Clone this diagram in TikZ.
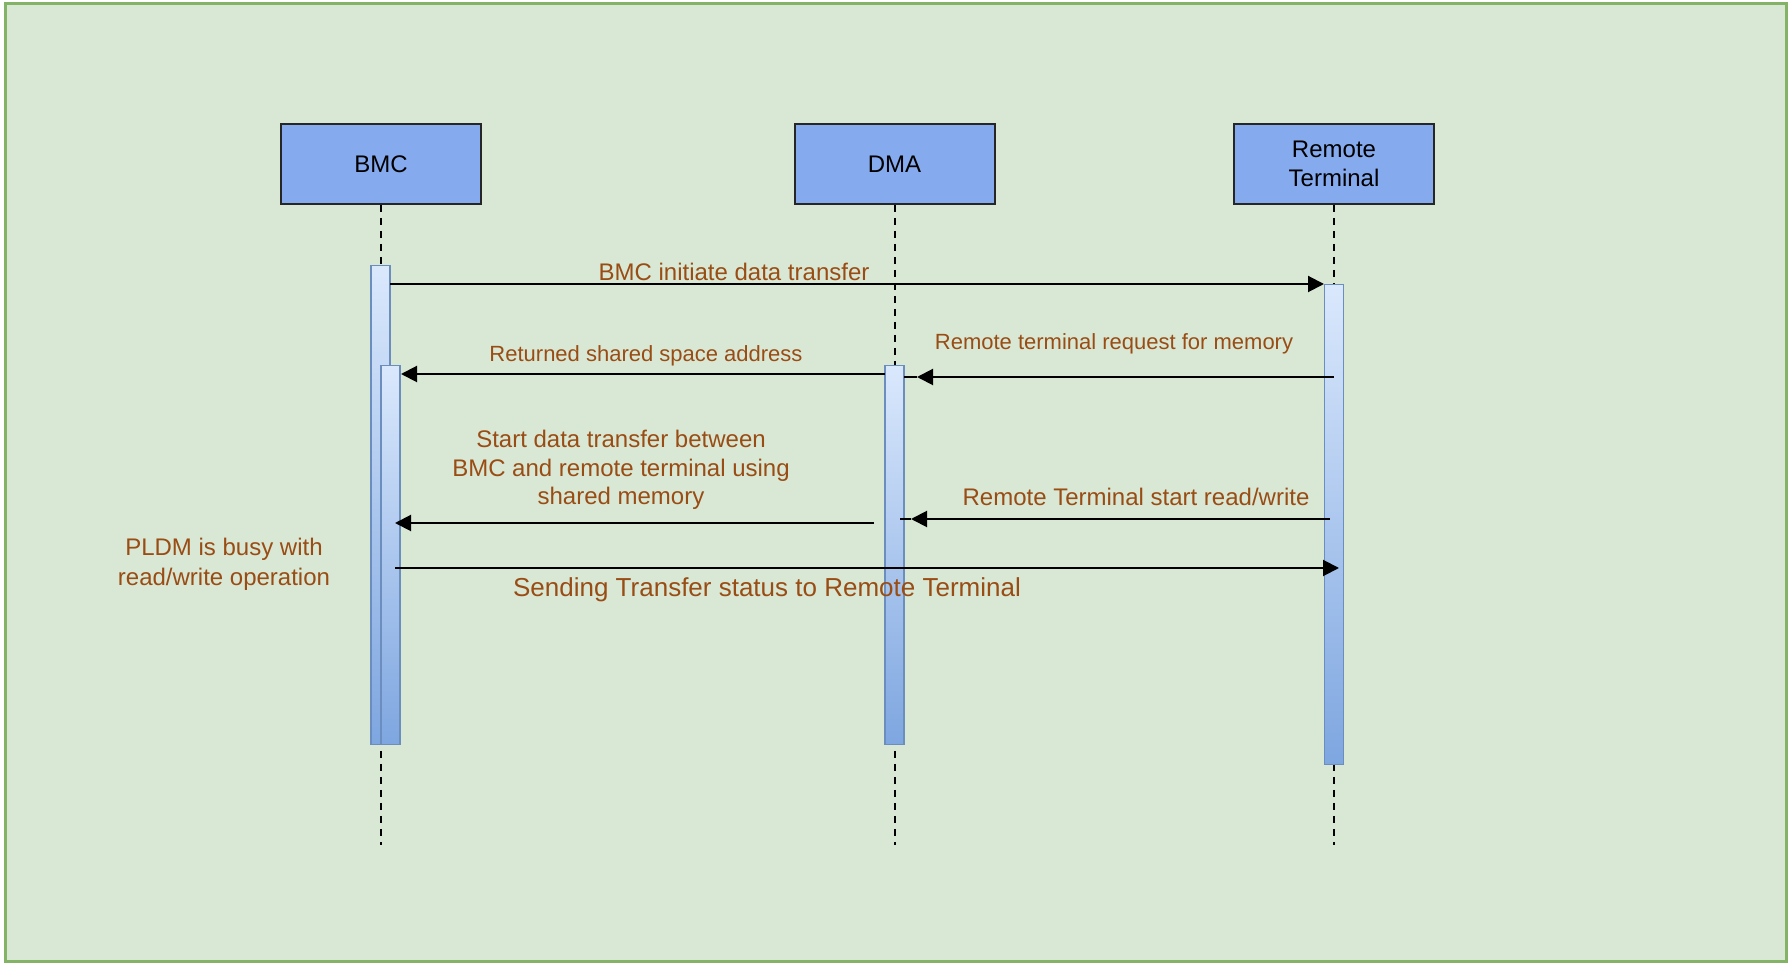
\documentclass[tikz,border=0pt]{standalone}
\usepackage{fontspec}
\setmainfont{Liberation Sans}
\usetikzlibrary{arrows.meta}
\definecolor{bggreen}{HTML}{D9E8D5}
\definecolor{bgstroke}{HTML}{82B366}
\definecolor{boxblue}{HTML}{85AAEE}
\definecolor{actTop}{HTML}{DAE8FC}
\definecolor{actBot}{HTML}{7EA6E0}
\definecolor{actStroke}{HTML}{6C8EBF}
\definecolor{lbl}{HTML}{994C14}
\tikzset{
  partbox/.style={draw=black!85, line width=1pt, fill=boxblue, minimum width=100pt, minimum height=40pt, align=center, font=\fontsize{12}{14.3}\selectfont, inner sep=0pt},
  actbar/.style={draw=actStroke, line width=0.75pt, top color=actTop, bottom color=actBot, minimum width=9.5pt, inner sep=0pt, anchor=north},
  lifeline/.style={line width=1pt, dash pattern=on 3.5pt off 3pt},
  msg/.style={line width=1pt, -{Triangle[length=8pt,width=8pt]}},
  plainmsg/.style={line width=1pt},
  msglbl/.style={text=lbl, font=\fontsize{11}{13}\selectfont, inner sep=0pt, align=center},
}
\begin{document}
\begin{tikzpicture}[x=0.5pt,y=-0.5pt]
\useasboundingbox (0,0) rectangle (1790,972);
\fill[white] (0,0) rectangle (1790,972);
\draw[bgstroke, fill=bggreen, line width=1.5pt] (5,4) rectangle (1786,961);

% participants
\node[partbox] (bmc) at (381,164) {BMC};
\node[partbox] (dma) at (894.5,164) {DMA};
\node[partbox] (rt) at (1334,164) {Remote\\Terminal};

% lifeline ends
\coordinate (bmcend) at (381,845);
\coordinate (dmaend) at (894.5,845);
\coordinate (rtend) at (1334,845);
\draw[lifeline] (bmc.south) -- (bmcend);
\draw[lifeline] (dma.south) -- (dmaend);
\draw[lifeline] (rt.south) -- (rtend);

% activations
\node[actbar, minimum height=239.5pt] (bmcA) at (380.5,265) {};
\node[actbar, minimum height=189.5pt] (bmcB) at (390.5,365) {};
\node[actbar, minimum height=189.5pt] (dmaA) at (894.5,365) {};
\node[actbar, minimum height=240pt] (rtA) at (1334,284) {};

% message endpoints
\coordinate (m1s) at (390,284);   \coordinate (m1e) at (1324,284);
\coordinate (m2s) at (1334,377);  \coordinate (m2t) at (917,377); \coordinate (m2e) at (904,377);
\coordinate (m3s) at (885,374);   \coordinate (m3e) at (401,374);
\coordinate (m4s) at (1330,519);  \coordinate (m4t) at (911,519); \coordinate (m4e) at (900,519);
\coordinate (m5s) at (874,523);   \coordinate (m5e) at (395,523);
\coordinate (m6s) at (395,568);   \coordinate (m6e) at (1339,568);

\draw[msg] (m1s) -- (m1e);
\draw[msg] (m2s) -- (m2t);
\draw[plainmsg] (m2t) -- (m2e);
\draw[msg] (m3s) -- (m3e);
\draw[msg] (m4s) -- (m4t);
\draw[plainmsg] (m4t) -- (m4e);
\draw[msg] (m5s) -- (m5e);
\draw[msg] (m6s) -- (m6e);

% labels
\node[msglbl, font=\fontsize{12}{14}\selectfont] (l1) at (734,272) {BMC initiate data transfer};
\node[msglbl] (l2) at (1114,344) {Remote terminal request for memory};
\node[msglbl] (l3) at (646,356) {Returned shared space address};
\node[msglbl, font=\fontsize{12}{14}\selectfont] (l4) at (1136,497) {Remote Terminal start read/write};
\node[msglbl, font=\fontsize{12}{14.2}\selectfont] (l5) at (621,470) {Start data transfer between\\BMC and remote terminal using\\shared memory};
\node[msglbl, font=\fontsize{13}{15}\selectfont] (l6) at (767,590) {Sending Transfer status to Remote Terminal};
\node[msglbl, font=\fontsize{12}{14.8}\selectfont] (pldm) at (224,564) {PLDM is busy with\\read/write operation};
\end{tikzpicture}
\end{document}
